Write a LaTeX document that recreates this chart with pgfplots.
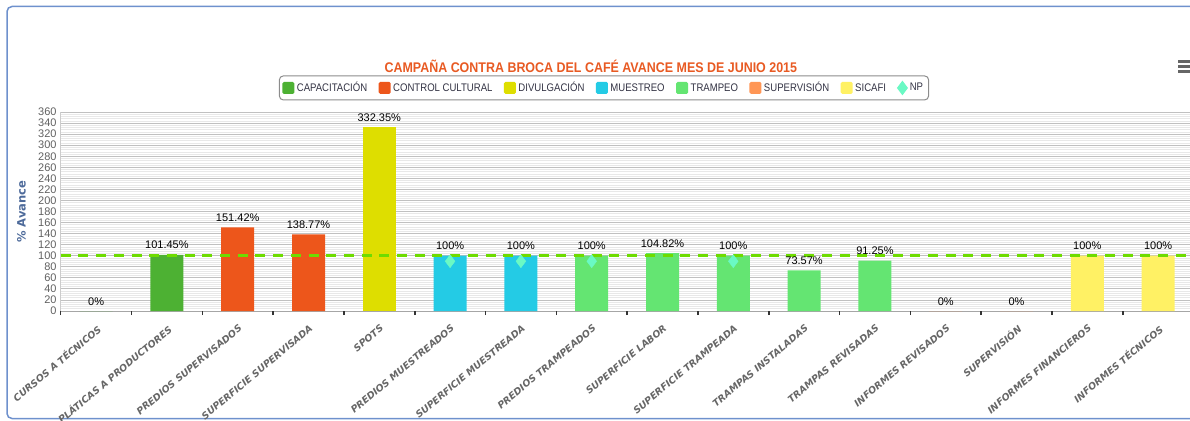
\documentclass[border=0pt]{standalone}
\usepackage{fontspec}
\setmainfont{Liberation Sans}
\newfontfamily\cond[FakeStretch=0.87]{Liberation Sans}
\newfontfamily\tcond[FakeStretch=0.89]{Liberation Sans}
\newfontfamily\dv{DejaVu Sans}
\newfontfamily\dvy{DejaVu Sans}
\usepackage{pgfplots}
\pgfplotsset{compat=1.18}
\definecolor{cap}{RGB}{77,177,51}
\definecolor{ccul}{RGB}{237,86,27}
\definecolor{divu}{RGB}{222,222,0}
\definecolor{mues}{RGB}{36,203,229}
\definecolor{tram}{RGB}{100,229,114}
\definecolor{supe}{RGB}{255,150,85}
\definecolor{sica}{RGB}{255,241,100}
\definecolor{npc}{RGB}{106,249,196}
\definecolor{titlec}{RGB}{232,90,35}
\definecolor{ylab}{RGB}{77,106,154}
\definecolor{xlab}{RGB}{102,102,102}
\definecolor{ytl}{RGB}{96,96,96}
\definecolor{legtext}{RGB}{51,51,68}
\definecolor{borderblue}{RGB}{110,145,205}
\definecolor{dashg}{RGB}{110,220,0}
\definecolor{majg}{RGB}{192,192,192}
\definecolor{ming}{RGB}{232,232,232}
\pgfplotsset{
  sq legend/.style={legend image code/.code={\fill[##1, rounded corners=1.5pt] (0pt,-6pt) rectangle (12pt,6pt);}},
  barst/.style={ybar, bar width=33pt, bar shift=0pt, draw=none, fill=#1,
    nodes near coords={\pgfmathprintnumber[fixed,precision=2]{\pgfplotspointmeta}\%},
    every node near coord/.append style={anchor=base, yshift=6pt, inner sep=0pt, text=black,
      font=\fontsize{11}{13}\selectfont},
    sq legend},
}
\begin{document}
\begin{tikzpicture}[x=1pt,y=1pt]
\useasboundingbox (0,0) rectangle (1190,-420);
\draw[borderblue, line width=1.5, rounded corners=5] (7,-418.5) rectangle (1250,-6.5);
\begin{axis}[
  at={(60.7pt,-311pt)}, anchor=south west,
  scale only axis, width=1132.8pt, height=199pt,
  xmin=-0.5, xmax=15.5, ymin=0, ymax=360,
  /pgf/number format/assume math mode=true,
  axis x line*=bottom, axis y line*=left,
  x axis line style={draw=black!35, line width=1pt},
  y axis line style={draw=black!20},
  ytick={0,20,...,360},
  minor y tick num=4,
  ymajorgrids, yminorgrids,
  major grid style={majg, line width=0.8pt},
  minor grid style={ming, line width=0.6pt},
  ytick style={draw=none}, minor y tick style={draw=none},
  yticklabel style={font=\fontsize{11}{12}\selectfont, text=ytl, inner sep=1pt, xshift=-3pt},
  xtick={0,...,15},
  xticklabels={CURSOS A TÉCNICOS, PLÁTICAS A PRODUCTORES, PREDIOS SUPERVISADOS, SUPERFICIE SUPERVISADA, SPOTS, PREDIOS MUESTREADOS, SUPERFICIE MUESTREADA, PREDIOS TRAMPEADOS, SUPERFICIE LABOR, SUPERFICIE TRAMPEADA, TRAMPAS INSTALADAS, TRAMPAS REVISADAS, INFORMES REVISADOS, SUPERVISIÓN, INFORMES FINANCIEROS, INFORMES TÉCNICOS},
  xtick style={draw=none},
  xticklabel style={rotate=40, anchor=north east, inner sep=1pt, text=xlab,
    font=\dv\bfseries\itshape\fontsize{9.5}{11}\selectfont, yshift=-9pt, xshift=-7pt},
  extra x ticks={-0.5,0.5,...,15.5},
  extra x tick labels={},
  extra x tick style={xtick style={draw=black!80, line width=1.6pt}, major tick length=4pt, tick align=outside},
  ylabel={\% Avance},
  ylabel style={at={(axis description cs:-0.0346,0.5)}, anchor=center, rotate=0,
    font=\dvy\bfseries\fontsize{11.5}{13}\selectfont, text=ylab},
  title={CAMPAÑA CONTRA BROCA DEL CAFÉ AVANCE MES DE JUNIO 2015},
  title style={at={(axis description cs:0.468,1.20)}, anchor=center,
    font=\tcond\bfseries\fontsize{14}{16}\selectfont, text=titlec},
  legend style={at={(axis description cs:0.4796,1.121)}, anchor=center,
    legend columns=-1, draw=black!45, line width=1pt, rounded corners=4pt,
    font=\cond\fontsize{11}{13}\selectfont, text=legtext,
    inner xsep=3pt, inner ysep=4pt,
    nodes={inner sep=2.5pt},
    /tikz/every even column/.append style={column sep=9pt}},
]
\addplot[barst=cap] coordinates {(0,0) (1,101.45)};
\addlegendentry{CAPACITACIÓN}
\addplot[barst=ccul] coordinates {(2,151.42) (3,138.77)};
\addlegendentry{CONTROL CULTURAL}
\addplot[barst=divu] coordinates {(4,332.35)};
\addlegendentry{DIVULGACIÓN}
\addplot[barst=mues] coordinates {(5,100) (6,100)};
\addlegendentry{MUESTREO}
\addplot[barst=tram] coordinates {(7,100) (8,104.82) (9,100) (10,73.57) (11,91.25)};
\addlegendentry{TRAMPEO}
\addplot[barst=supe] coordinates {(12,0) (13,0)};
\addlegendentry{SUPERVISIÓN}
\addplot[barst=sica] coordinates {(14,100) (15,100)};
\addlegendentry{SICAFI}
\addplot[only marks, mark=diamond*, mark size=6.5pt, mark options={fill=npc, draw=npc}, color=npc] coordinates {(5,90) (6,90) (7,90) (9,90)};
\addlegendentry{NP}
\addplot[forget plot, dashg, line width=2.5pt, dash pattern=on 10pt off 7.7pt] coordinates {(-0.5,100) (15.5,100)};
\end{axis}
\foreach \yy in {61.5,66.5,71.5} \draw[black!60, line width=2.5] (1178,-\yy) -- (1190,-\yy);
\end{tikzpicture}
\end{document}
